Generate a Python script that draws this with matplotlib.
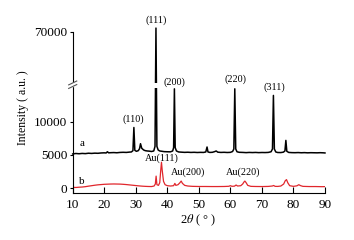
import matplotlib
matplotlib.use('Agg')
import matplotlib.pyplot as plt
import numpy as np

plt.rcParams['font.family'] = ['Liberation Serif', 'DejaVu Serif']
plt.rcParams['mathtext.fontset'] = 'stix'

# pattern a (black), 2theta / intensity
a_x = [10, 11, 12, 13, 14, 15, 16, 17, 18, 19, 20, 20.6, 21, 21.4, 22, 23, 24, 25, 26, 27, 28,
       28.6, 29.1, 29.4, 29.7, 30.2, 30.8, 31.2, 31.5, 31.9, 32.5, 33, 33.6, 34.2, 35, 35.7,
       36.1, 36.4, 36.7, 37.1, 37.6, 38.2, 39, 40, 41, 41.7, 42.0, 42.25, 42.5, 42.9, 43.6,
       44.5, 45.5, 46.5, 47.5, 48.5, 49.5, 50.5, 51.5, 52.2, 52.6, 52.9, 53.5, 54.3, 55, 55.5,
       56, 57, 58, 59, 60, 60.7, 61.1, 61.4, 61.7, 62.1, 62.8, 64, 65, 66, 67, 68, 69, 70, 71,
       72, 72.9, 73.35, 73.65, 73.95, 74.4, 75, 76, 76.8, 77.3, 77.6, 77.9, 78.5, 79.5, 80.5,
       81.5, 82.5, 83.5, 84.5, 85.5, 86.5, 87.5, 88.5, 89.5, 90]
a_y = [5150, 5220, 5180, 5230, 5200, 5260, 5230, 5270, 5250, 5300, 5320, 5300, 5480, 5320, 5340,
       5360, 5330, 5380, 5400, 5380, 5430, 5450, 5650, 9150, 5700, 5550, 5650, 5950, 6700, 6000,
       5750, 5650, 5600, 5580, 5520, 5600, 6300, 74000, 6300, 5750, 5600, 5560, 5500, 5480,
       5470, 5600, 6100, 15000, 6100, 5600, 5450, 5420, 5390, 5410, 5380, 5400, 5370, 5390,
       5380, 5450, 6200, 5450, 5380, 5400, 5500, 5600, 5420, 5380, 5400, 5370, 5390, 5520,
       5900, 15000, 5900, 5480, 5400, 5380, 5350, 5380, 5360, 5380, 5350, 5370, 5360, 5380,
       5480, 5900, 14000, 5900, 5450, 5370, 5360, 5420, 5600, 7200, 5550, 5380, 5350, 5340,
       5360, 5330, 5350, 5320, 5340, 5330, 5320, 5340, 5320, 5300]

# pattern b (red)
b_x = [10, 11, 12, 13, 14, 15, 16, 17, 18, 19, 20, 21, 22, 23, 24, 25, 26, 27, 28, 29, 30, 31,
       32, 33, 34, 35, 35.8, 36.2, 36.45, 36.7, 37.2, 37.6, 37.9, 38.15, 38.4, 38.8, 39.3, 40,
       41, 42, 42.4, 42.7, 43.4, 44.0, 44.4, 44.8, 45.5, 46.5, 48, 50, 52, 54, 56, 58, 59.5,
       60, 60.5, 61.3, 61.8, 62.3, 63.3, 63.9, 64.3, 64.6, 65.0, 65.5, 66.5, 68, 70, 72, 73.3,
       73.7, 74.2, 75, 76, 76.9, 77.4, 77.8, 78.2, 78.8, 80, 81.1, 81.7, 82.3, 83, 85, 87, 89, 90]
b_y = [100, 80, 120, 150, 200, 280, 350, 420, 480, 520, 560, 580, 600, 610, 600, 590, 560, 520,
       470, 420, 370, 320, 280, 250, 230, 220, 300, 600, 1800, 500, 400, 800, 2600, 3900, 2600,
       1000, 500, 350, 300, 350, 700, 400, 500, 800, 1050, 700, 400, 300, 250, 230, 230, 220,
       220, 230, 260, 350, 260, 280, 450, 300, 350, 600, 900, 1050, 800, 400, 250, 230, 220,
       240, 300, 380, 250, 240, 300, 600, 1100, 1270, 800, 350, 250, 330, 500, 350, 250, 220,
       220, 200, 210]

peak_labels = ['(110)', '(111)', '(200)', '(220)', '(311)']
peak_lx = [29.2, 36.6, 42.2, 61.6, 73.8]
peak_ly = [10400, 82250, 19280, 22030, 15260]

au_labels = ['Au(111)', 'Au(200)', 'Au(220)']
au_lx = [38.3, 46.5, 64.2]
au_ly = [4450, 2420, 2420]

# broken y axis: linear below B, compressed above
B = 15500.0
K = 0.1485


def fwd(y):
    y = np.asarray(y, dtype=float)
    return np.where(y <= B, y, B + (y - B) * K)


def inv(f):
    f = np.asarray(f, dtype=float)
    return np.where(f <= B, f, B + (f - B) / K)


fig = plt.figure(figsize=(3.54, 2.40), dpi=100)
ax = fig.add_axes([0.2054, 0.1946, 0.918 - 0.2054, 0.8667 - 0.1946])
ax.set_yscale('function', functions=(fwd, inv))

ax.plot(a_x, a_y, color='black', lw=1.1, clip_on=False, zorder=2)
ax.plot(b_x, b_y, color='#e0262c', lw=0.9, zorder=2)

# white gap where the tall peak crosses the break
ax.fill_between([35.6, 37.2], [15150, 15150], [17900, 17900], color='white', lw=0, zorder=3)

ax.set_xlim(10, 90)
ax.set_ylim(-800, 70000)
ax.set_xticks(range(10, 91, 10))
ax.set_yticks([0, 5000, 10000, 70000])
ax.set_yticklabels(['0', '5000', '10000', '70000'])
ax.minorticks_off()
ax.tick_params(axis='x', direction='in', length=4, width=0.8, labelsize=9.5, pad=4)
ax.tick_params(axis='y', direction='out', length=2.5, width=0.8, labelsize=9.5, pad=1.5)
for s in ['top', 'right']:
    ax.spines[s].set_visible(False)
for s in ['left', 'bottom']:
    ax.spines[s].set_linewidth(0.8)

# break marks on the left spine
f_lo, f_hi = fwd(-800), fwd(70000)
yb = float((fwd(16300) - f_lo) / (f_hi - f_lo))
dx, dy, sep = 0.016, 0.012, 0.011
ax.fill([-0.01, 0.01, 0.01, -0.01], [yb - sep, yb - sep, yb + sep, yb + sep],
        color='white', transform=ax.transAxes, clip_on=False, zorder=4)
for off in (-sep, sep):
    ax.plot([-dx, dx], [yb + off - dy, yb + off + dy], color='#555555', lw=0.8,
            transform=ax.transAxes, clip_on=False, zorder=5)

for t, x, y in zip(peak_labels, peak_lx, peak_ly):
    ax.text(x, y, t, fontsize=7.3, ha='center', va='center')
for t, x, y in zip(au_labels, au_lx, au_ly):
    ax.text(x, y, t, fontsize=7.3, ha='center', va='center')
ax.text(12.85, 6730, 'a', fontsize=8, ha='center', va='center')
ax.text(12.85, 910, 'b', fontsize=8, ha='center', va='center')

fig.text(198 / 354, 1 - 220 / 240, r'2$\theta$ ( ° )', fontsize=9, ha='center', va='center')
fig.text(23 / 354, 1 - 108 / 240, 'Intensity ( a.u. )', fontsize=8.5, rotation=90,
         ha='center', va='center')

fig.savefig('out.png', dpi=100)
